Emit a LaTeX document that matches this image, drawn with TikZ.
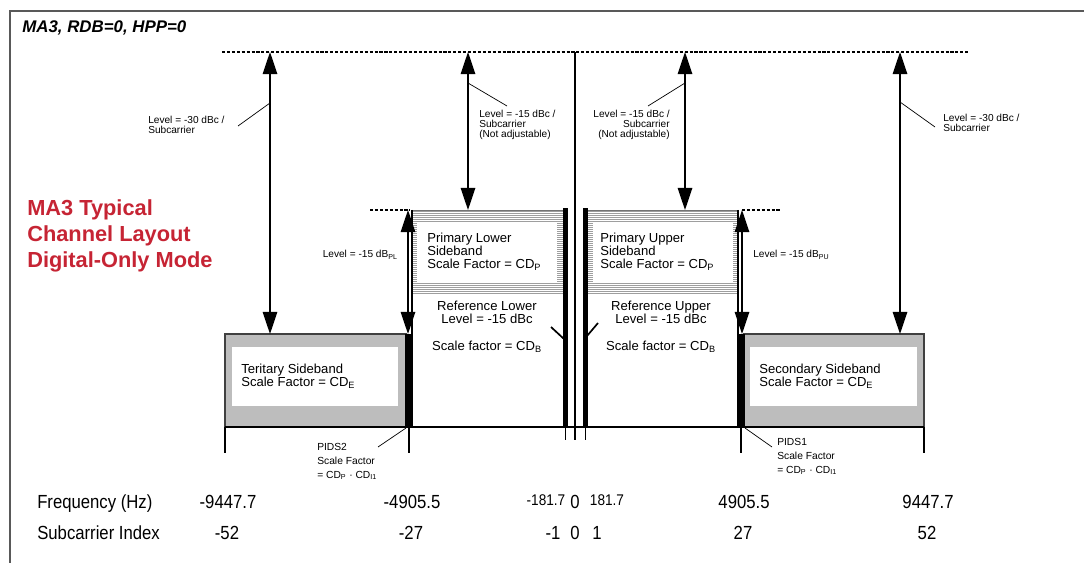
\documentclass[tikz,border=0pt]{standalone}
\usepackage{fontspec}
\setmainfont{Liberation Sans}
\newfontfamily\axisfont{Liberation Sans}[FakeStretch=0.88]
\usetikzlibrary{arrows.meta}
\definecolor{titlered}{RGB}{198,36,52}

\begin{document}
\begin{tikzpicture}[x=0.025cm,y=-0.025cm,
  lvl/.style={line width=1.1pt,{Triangle[length=5.5mm,width=3.6mm]}-{Triangle[length=5.5mm,width=3.6mm]}},
  lead/.style={line width=0.5pt},
  refline/.style={line width=0.9pt,dash pattern=on 2.2pt off 1.3pt},
  note/.style={font=\fontsize{7.2}{6.9}\selectfont,inner sep=0pt,align=left,anchor=north west},
  pids/.style={font=\fontsize{7.3}{9.8}\selectfont,inner sep=0pt,align=left,anchor=north west},
  band/.style={font=\fontsize{9.3}{9}\selectfont,inner sep=0pt,align=left,anchor=north west},
  freqlab/.style={font=\axisfont\fontsize{13.5}{16}\selectfont,inner sep=0pt,anchor=base},
  smallfreq/.style={font=\axisfont\fontsize{11}{13}\selectfont,inner sep=0pt,anchor=base}]
\useasboundingbox (0,0) rectangle (1084,563);

\draw[black!65,line width=1.4pt] (10,563) -- (10,11) -- (1084,11);
\node[anchor=base west,inner sep=0pt,font=\bfseries\itshape\fontsize{12}{14}\selectfont] (title) at (22,33) {MA3, RDB=0, HPP=0};
\node[anchor=north west,inner sep=0pt,align=left,text=titlered,font=\bfseries\fontsize{15.5}{18.5}\selectfont] (mode) at (27,199) {MA3 Typical\\Channel Layout\\Digital-Only Mode};

% reference levels
\draw[refline] (222,52) -- (968,52);
\draw[refline] (370,210) -- (410,210);
\draw[refline] (742,210) -- (780,210);

% primary sidebands
\foreach \y in {211,213,...,293} {
  \draw[black!38,line width=0.45pt] (412,\y) -- (563,\y);
  \draw[black!38,line width=0.45pt] (588,\y) -- (738,\y);
}
\fill[white] (417,223) rectangle (557,282);
\fill[white] (593,223) rectangle (733,282);
\draw[black!55,line width=0.6pt] (412,210) -- (563,210) (588,210) -- (738,210);

% secondary and tertiary sidebands
\filldraw[fill=black!26,draw=black!75,line width=1.1pt] (225,334) rectangle (406,427);
\fill[white] (232,347) rectangle (398,406);
\filldraw[fill=black!26,draw=black!75,line width=1.1pt] (744,334) rectangle (924,427);
\fill[white] (750,347) rectangle (917,406);

% edges and reference carriers
\draw[line width=1pt] (412,210) -- (412,427);
\draw[line width=1pt] (738,210) -- (738,427);
\fill (405,334) rectangle (413,427);
\fill (737,334) rectangle (745,427);
\fill (563,208) rectangle (568,427);
\fill (583,208) rectangle (588,427);
\draw[line width=0.7pt] (565.5,427) -- (565.5,440) (585.5,427) -- (585.5,440);
\draw[line width=1pt] (575,52) -- (575,440);
\draw[line width=1.2pt] (551,327) -- (564,339);
\draw[line width=1.2pt] (598,323) -- (587,336);
\draw[line width=1.1pt] (225,427) -- (924,427);
\foreach \x in {225,409,741,924}
  \draw[line width=0.8pt] (\x,427) -- (\x,453);

% level arrows
\coordinate (t1) at (270,52);  \coordinate (b1) at (270,334);
\coordinate (t2) at (468,52);  \coordinate (b2) at (468,210);
\coordinate (t3) at (685,52);  \coordinate (b3) at (685,210);
\coordinate (t4) at (900,52);  \coordinate (b4) at (900,334);
\coordinate (t5) at (408,210); \coordinate (b5) at (408,334);
\coordinate (t6) at (742,210); \coordinate (b6) at (742,334);
\draw[lvl] (t1) -- (b1);
\draw[lvl] (t2) -- (b2);
\draw[lvl] (t3) -- (b3);
\draw[lvl] (t4) -- (b4);
\draw[lvl] (t5) -- (b5);
\draw[lvl] (t6) -- (b6);

% level notes
\node[note] (n1) at (148,116) {Level = -30 dBc /\\Subcarrier};
\node[note] (n2) at (479,110) {Level = -15 dBc /\\Subcarrier\\(Not adjustable)};
\node[note,align=right,anchor=north east] (n3) at (670,110) {Level = -15 dBc /\\Subcarrier\\(Not adjustable)};
\node[note] (n4) at (943,114) {Level = -30 dBc /\\Subcarrier};
\coordinate (s1) at (270,103); \coordinate (e1) at (238,126);
\coordinate (s2) at (468,83);  \coordinate (e2) at (507,106);
\coordinate (s3) at (685,83);  \coordinate (e3) at (648,106);
\coordinate (s4) at (900,102); \coordinate (e4) at (935,127);
\draw[lead] (s1) -- (e1);
\draw[lead] (s2) -- (e2);
\draw[lead] (s3) -- (e3);
\draw[lead] (s4) -- (e4);
\node[note,anchor=base east] (pl) at (398,258) {Level = -15 dB\textsubscript{PL}};
\node[note,anchor=base west] (pu) at (753,258) {Level = -15 dB\textsubscript{PU}};

% sideband texts
\node[band] (pls) at (427,233) {Primary Lower\\Sideband\\Scale Factor = CD\textsubscript{P}};
\node[band] (pus) at (600,233) {Primary Upper\\Sideband\\Scale Factor = CD\textsubscript{P}};
\node[band,align=center,anchor=north] (rl) at (487,301) {Reference Lower\\Level = -15 dBc\\[10.5pt]Scale factor = CD\textsubscript{B}};
\node[band,align=center,anchor=north] (ru) at (661,301) {Reference Upper\\Level = -15 dBc\\[10.5pt]Scale factor = CD\textsubscript{B}};
\node[band] (ts) at (241,364) {Teritary Sideband\\Scale Factor = CD\textsubscript{E}};
\node[band] (ss) at (759,364) {Secondary Sideband\\Scale Factor = CD\textsubscript{E}};

% PIDS notes
\node[pids] (p2) at (317,443) {PIDS2\\Scale Factor\\= CD\textsubscript{P} · CD\textsubscript{I1}};
\node[pids] (p1) at (777,438) {PIDS1\\Scale Factor\\= CD\textsubscript{P} · CD\textsubscript{I1}};
\coordinate (q2) at (406,428); \coordinate (r2) at (378,447);
\coordinate (q1) at (745,428); \coordinate (r1) at (772,447);
\draw[lead] (q2) -- (r2);
\draw[lead] (q1) -- (r1);

% frequency and index rows
\node[freqlab,anchor=base west] (fh) at (37,508) {Frequency (Hz)};
\node[freqlab] (f1) at (228,508) {-9447.7};
\node[freqlab] (f2) at (412,508) {-4905.5};
\node[smallfreq] (f3) at (546,505) {-181.7};
\node[freqlab] (f4) at (575,508) {0};
\node[smallfreq] (f5) at (607,505) {181.7};
\node[freqlab] (f6) at (744,508) {4905.5};
\node[freqlab] (f7) at (928,508) {9447.7};
\node[freqlab,anchor=base west] (ih) at (37,539) {Subcarrier Index};
\node[freqlab] (i1) at (227,539) {-52};
\node[freqlab] (i2) at (411,539) {-27};
\node[freqlab] (i3) at (553,539) {-1};
\node[freqlab] (i4) at (575,539) {0};
\node[freqlab] (i5) at (597,539) {1};
\node[freqlab] (i6) at (743,539) {27};
\node[freqlab] (i7) at (927,539) {52};
\end{tikzpicture}
\end{document}
